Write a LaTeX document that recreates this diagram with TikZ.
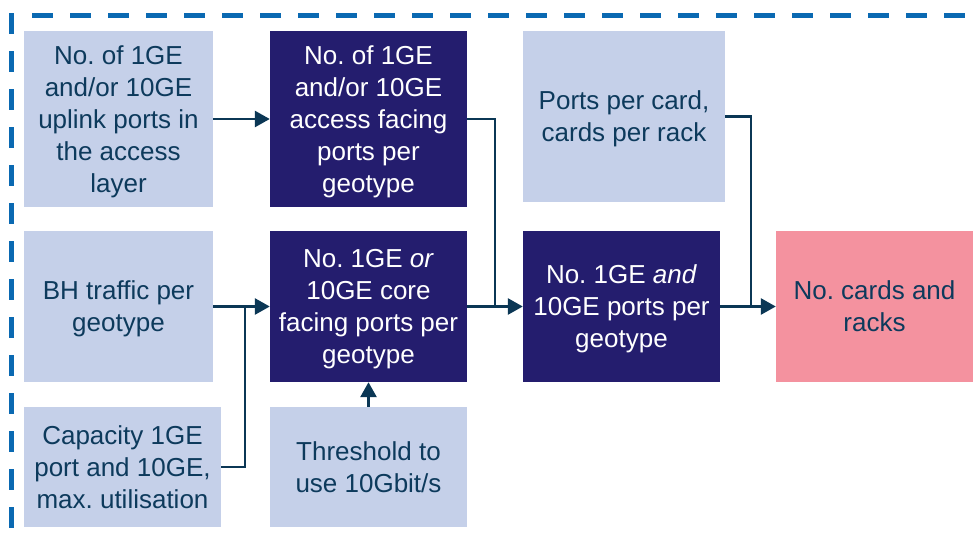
\documentclass[tikz,border=0pt]{standalone}
\usepackage{fontspec}
\setmainfont{Liberation Sans}
\usetikzlibrary{arrows.meta}
\frenchspacing
\definecolor{lightfill}{HTML}{C5D0E9}
\definecolor{darkfill}{HTML}{241D6E}
\definecolor{pinkfill}{HTML}{F4929F}
\definecolor{inktext}{HTML}{0D3A5C}
\definecolor{linecol}{HTML}{0B3755}
\definecolor{bordercol}{HTML}{0A69B2}
\tikzset{
  box/.style={draw=none, align=center, inner sep=0pt, text depth=0pt, font=\fontsize{26}{32}\selectfont},
  lightbox/.style={box, fill=lightfill, text=inktext},
  darkbox/.style={box, fill=darkfill, text=white},
  pinkbox/.style={box, fill=pinkfill, text=inktext},
  conn/.style={draw=linecol, line width=2.7pt},
  arr/.style={conn, -{Triangle[length=15pt,width=16pt]}},
  border/.style={draw=bordercol, line width=5pt, dash pattern=on 21pt off 17pt}
}
\begin{document}
\begin{tikzpicture}[x=1pt,y=-1pt]
\fill[white] (0,0) rectangle (978,538);
\useasboundingbox (0,0) rectangle (978,538);
% dashed border
\draw[border] (11.5,13) -- (11.5,545);
\draw[border] (32,15.5) -- (985,15.5);
% nodes
\node[lightbox, minimum width=189pt, minimum height=176pt] (a1) at (118.5,119) {No. of 1GE\\and/or 10GE\\uplink ports in\\the access\\layer};
\node[darkbox, minimum width=197pt, minimum height=176pt] (a2) at (368.5,119) {No. of 1GE\\and/or 10GE\\access facing\\ports per\\geotype};
\node[lightbox, minimum width=189pt, minimum height=151pt] (b1) at (118.5,306.5) {BH traffic per\\geotype};
\node[darkbox, minimum width=197pt, minimum height=151pt] (b2) at (368.5,306.5) {No. 1GE \textit{or}\\10GE core\\facing ports per\\geotype};
\node[lightbox, minimum width=197pt, minimum height=120pt] (c1) at (122.5,467) {Capacity 1GE\\port and 10GE,\\max. utilisation};
\node[lightbox, minimum width=197pt, minimum height=120pt] (c2) at (368.5,467) {Threshold to\\use 10Gbit/s};
\node[lightbox, minimum width=202pt, minimum height=171pt] (p) at (624,116.5) {Ports per card,\\cards per rack};
\node[darkbox, minimum width=197pt, minimum height=151pt] (d2) at (621.5,306.5) {No. 1GE \textit{and}\\10GE ports per\\geotype};
\node[pinkbox, minimum width=197pt, minimum height=151pt] (e) at (874.5,306.5) {No. cards and\\racks};
% junctions
\coordinate (j1) at (245,306.5);
\coordinate (j2) at (495,306.5);
\coordinate (j3) at (751,306.5);
% connectors
\draw[arr] (a1.east) -- (a2.west);
\draw[arr] (b1.east) -- (b2.west);
\draw[conn] (c1.east) -| (j1);
\draw[arr] (c2.north) -- (b2.south);
\draw[conn] (a2.east) -| (j2);
\draw[arr] (b2.east) -- (d2.west);
\draw[conn] (p.east) -| (j3);
\draw[arr] (d2.east) -- (e.west);
\end{tikzpicture}
\end{document}
